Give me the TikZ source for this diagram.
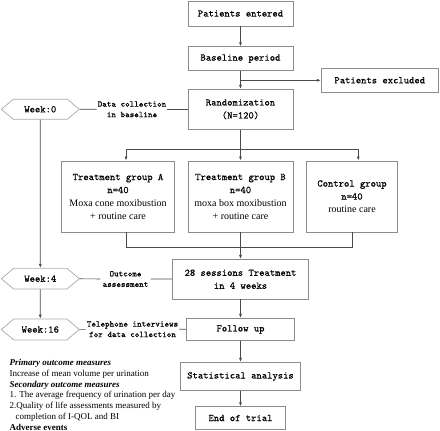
\documentclass[tikz,border=0pt]{standalone}
\usepackage{fontspec}
\setmainfont{Liberation Serif}
\newfontfamily\boxfont[FakeBold=0.5]{Latin Modern Mono}
\usetikzlibrary{shapes.symbols,arrows.meta}
\definecolor{framegray}{HTML}{8C8C8C}
\definecolor{linegray}{HTML}{4A4A4A}

\begin{document}
\begin{tikzpicture}[x=1pt,y=-1pt,
  box/.style={draw=framegray,line width=0.8pt,inner sep=0pt,align=center,
    font=\boxfont\fontsize{10.15}{13}\selectfont},
  group/.style={box,font=\fontsize{10}{13}\selectfont},
  week/.style={draw=framegray!75,line width=0.7pt,signal,signal to=west and east,
    signal pointer angle=80,minimum width=78pt,minimum height=20pt,inner sep=0pt,
    font=\boxfont\fontsize{10.15}{11}\selectfont},
  note/.style={inner sep=1pt,align=center,font=\boxfont\fontsize{8.7}{10.5}\selectfont},
  conn/.style={draw=linegray,line width=0.7pt},
  >={Latex[length=4pt,width=3pt]}]
\useasboundingbox (0,0) rectangle (440,431);

\node[box,minimum width=105pt,minimum height=25pt] (entered) at (240.5,13.5) {Patients entered};
\node[box,minimum width=105pt,minimum height=24pt] (baseline) at (240.5,58.7) {Baseline period};
\node[box,minimum width=117pt,minimum height=24pt] (excluded) at (379.8,80.3) {Patients excluded};
\node[box,minimum width=105pt,minimum height=40pt] (random) at (240.5,109.3) {Randomization\\(N=120)};
\node[group,minimum width=112.6pt,minimum height=71pt] (groupA) at (118,196.5)
  {{\boxfont\fontsize{10.15}{13}\selectfont Treatment group A}\\{\boxfont\fontsize{10.15}{13}\selectfont n=40}\\Moxa cone moxibustion\\+ routine care};
\node[group,minimum width=105pt,minimum height=71pt] (groupB) at (240.5,196.5)
  {{\boxfont\fontsize{10.15}{13}\selectfont Treatment group B}\\{\boxfont\fontsize{10.15}{13}\selectfont n=40}\\moxa box moxibustion\\+ routine care};
\node[group,minimum width=90.6pt,minimum height=71pt] (control) at (352,196.5)
  {{\boxfont\fontsize{10.15}{13}\selectfont Control group}\\{\boxfont\fontsize{10.15}{13}\selectfont n=40}\\routine care};
\node[box,minimum width=136pt,minimum height=39.7pt] (sessions) at (240.5,279.2) {28 sessions Treatment\\in 4 weeks};
\node[box,minimum width=108pt,minimum height=22.4pt] (follow) at (240.5,329.5) {Follow up};
\node[box,minimum width=120pt,minimum height=28.4pt] (stats) at (240.5,376.5) {Statistical analysis};
\node[box,minimum width=90.7pt,minimum height=22.6pt] (end) at (240.5,418) {End of trial};

\node[week] (week0) at (40.3,109.3) {Week:0};
\node[week,minimum height=20.7pt] (week4) at (40.3,278.7) {Week:4};
\node[week,minimum height=21pt] (week16) at (40.3,329.5) {Week:16};
\node[note] (data0) at (132,109.3) {Data collection\\in baseline};
\node[note,inner sep=2pt] (outcome) at (125.5,279) {Outcome\\assessment};
\node[note] (phone) at (132.5,329.2) {Telephone interviews\\for data collection};

\node[anchor=north west,inner sep=0pt,align=left,font=\fontsize{9}{10.8}\selectfont] (measures) at (9.5,359)
  {\textbf{\textit{Primary outcome measures}}\\
   Increase of mean volume per urination\\
   \textbf{\textit{Secondary outcome measures}}\\
   1. The average frequency of urination per day\\
   2.Quality of life assessments measured by\\
   \hspace*{6pt}completion of I-QOL and BI\\
   \textbf{Adverse events}};

\coordinate (split) at (240.5,80.3);
\coordinate (fork) at (240.5,149);
\coordinate (forkA) at (126,149);
\coordinate (forkC) at (358.3,149);
\coordinate (joinA) at (126.7,247);
\coordinate (joinB) at (240.5,247);
\coordinate (joinC) at (352,247);

\path[conn,->] (entered) -- (baseline);
\path[conn,->] (baseline) -- (random);
\path[conn,->] (split) -- (excluded);
\path[conn] (random) -- (fork);
\path[conn] (forkA) -- (forkC);
\path[conn,->] (forkA) -- (forkA |- groupA.north);
\path[conn,->] (fork) -- (groupB);
\path[conn,->] (forkC) -- (forkC |- control.north);
\path[conn] (joinA |- groupA.south) -- (joinA) -- (joinC) -- (control);
\path[conn,->] (groupB) -- (sessions);
\path[conn,->] (sessions) -- (follow);
\path[conn,->] (follow) -- (stats);
\path[conn,->] (stats) -- (end);

\path[conn] (week0) -- (data0);
\path[conn] (data0) -- (random);
\path[conn,->] (week0) -- (week4);
\path[conn] (week4) -- (outcome);
\path[conn] (outcome) -- (sessions);
\path[conn,->] (week4) -- (week16);
\path[conn] (week16) -- (phone);
\path[conn] (phone) -- (follow);
\end{tikzpicture}
\end{document}
